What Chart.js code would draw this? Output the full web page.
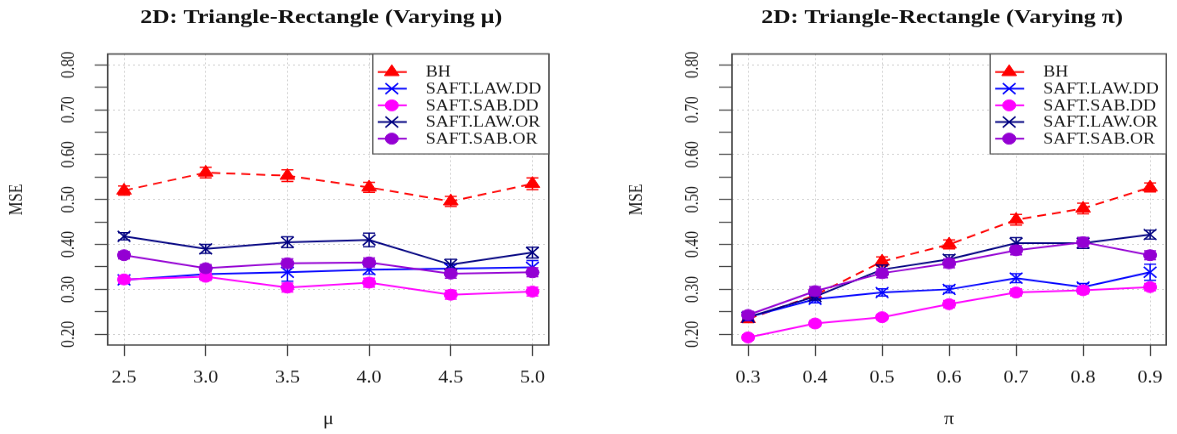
<!DOCTYPE html>
<html><head><meta charset="utf-8">
<script src="https://cdn.jsdelivr.net/npm/chart.js@4.4.1/dist/chart.umd.min.js"></script>
<style>
html,body{margin:0;padding:0;background:#fff;overflow:hidden;width:1177px;height:434px}
.panel{position:absolute;top:0;transform:scaleY(0.85);transform-origin:0 0}
</style></head><body>
<div class="panel" style="left:0"><canvas id="c1" width="588" height="511" style="width:588px;height:511px"></canvas></div>
<div class="panel" style="left:588px"><canvas id="c2" width="589" height="511" style="width:589px;height:511px"></canvas></div>
<script>
// ---------- data ----------
const seriesNames = ['BH', 'SAFT.LAW.DD', 'SAFT.SAB.DD', 'SAFT.LAW.OR', 'SAFT.SAB.OR'];
const yTickValues = [0.20, 0.25, 0.30, 0.35, 0.40, 0.45, 0.50, 0.55, 0.60, 0.65, 0.70, 0.75, 0.80];
const yTickLabels = ['0.20', '', '0.30', '', '0.40', '', '0.50', '', '0.60', '', '0.70', '', '0.80'];

// left panel: varying mu
const muValues = [2.5, 3.0, 3.5, 4.0, 4.5, 5.0];
const muTickLabels = ['2.5', '3.0', '3.5', '4.0', '4.5', '5.0'];
const muBH    = [0.520, 0.560, 0.553, 0.527, 0.496, 0.535];
const muLawDD = [0.321, 0.334, 0.338, 0.344, 0.346, 0.349];
const muSabDD = [0.322, 0.328, 0.304, 0.315, 0.288, 0.295];
const muLawOR = [0.418, 0.390, 0.405, 0.410, 0.355, 0.382];
const muSabOR = [0.376, 0.347, 0.358, 0.360, 0.335, 0.338];
const muBHErr    = [0.010, 0.012, 0.013, 0.011, 0.011, 0.013];
const muLawDDErr = [0.008, 0.008, 0.020, 0.010, 0.010, 0.015];
const muSabDDErr = [0.008, 0.008, 0.010, 0.010, 0.010, 0.010];
const muLawORErr = [0.008, 0.010, 0.012, 0.015, 0.012, 0.012];
const muSabORErr = [0.008, 0.008, 0.010, 0.010, 0.010, 0.010];

// right panel: varying pi
const piValues = [0.3, 0.4, 0.5, 0.6, 0.7, 0.8, 0.9];
const piTickLabels = ['0.3', '0.4', '0.5', '0.6', '0.7', '0.8', '0.9'];
const piBH    = [0.234, 0.287, 0.362, 0.400, 0.455, 0.480, 0.527];
const piLawDD = [0.238, 0.278, 0.293, 0.300, 0.325, 0.305, 0.338];
const piSabDD = [0.193, 0.224, 0.238, 0.267, 0.293, 0.298, 0.305];
const piLawOR = [0.238, 0.284, 0.344, 0.367, 0.403, 0.403, 0.422];
const piSabOR = [0.243, 0.296, 0.336, 0.358, 0.387, 0.405, 0.376];
const piBHErr    = [0.008, 0.008, 0.010, 0.010, 0.012, 0.012, 0.010];
const piLawDDErr = [0.008, 0.008, 0.008, 0.008, 0.010, 0.008, 0.018];
const piSabDDErr = [0.006, 0.006, 0.006, 0.008, 0.008, 0.008, 0.008];
const piLawORErr = [0.006, 0.008, 0.010, 0.010, 0.012, 0.012, 0.010];
const piSabORErr = [0.008, 0.010, 0.010, 0.010, 0.010, 0.010, 0.010];

// ---------- styles ----------
const SERIF = '"Liberation Serif", "Times New Roman", serif';
const TXT = '#1e1e1e';
const styles = [
  {color: '#ff0000', pointStyle: 'triangle', radius: 8.5, pbw: 1, dash: [9, 6], order: 5},
  {color: '#0000ff', pointStyle: 'crossRot', radius: 9, pbw: 1.6, dash: [], order: 4},
  {color: '#ff00ff', pointStyle: 'circle', radius: 6.5, pbw: 1, dash: [], order: 3},
  {color: '#000080', pointStyle: 'crossRot', radius: 9, pbw: 1.6, dash: [], order: 2},
  {color: '#9400d3', pointStyle: 'circle', radius: 6.5, pbw: 1, dash: [], order: 1}
];

function drawMarker(ctx, st, x, y) {
  ctx.save();
  ctx.fillStyle = st.color; ctx.strokeStyle = st.color; ctx.lineWidth = st.pbw; ctx.setLineDash([]);
  if (Chart.helpers && Chart.helpers.drawPoint) {
    Chart.helpers.drawPoint(ctx, {pointStyle: st.pointStyle, rotation: 0, radius: st.radius, borderWidth: st.pbw}, x, y);
  }
  ctx.restore();
}

function makeChart(id, cfg) {
  const datasets = cfg.series.map((vals, k) => ({
    label: seriesNames[k],
    data: cfg.xValues.map((x, i) => ({x: x, y: vals[i]})),
    errors: cfg.errors[k],
    borderColor: styles[k].color,
    backgroundColor: styles[k].color,
    borderWidth: 2,
    borderDash: styles[k].dash,
    pointStyle: styles[k].pointStyle,
    pointRadius: styles[k].radius,
    pointBorderWidth: styles[k].pbw,
    pointBackgroundColor: styles[k].color,
    pointBorderColor: styles[k].color,
    tension: 0,
    order: styles[k].order
  }));

  const decor = {
    id: 'decor' + id,
    afterDatasetDraw(chart, args) {
      const ds = chart.data.datasets[args.index];
      const ys = chart.scales.y, xs = chart.scales.x;
      const ctx = chart.ctx;
      ctx.save();
      ctx.strokeStyle = ds.borderColor; ctx.lineWidth = 1.5; ctx.setLineDash([]);
      ds.data.forEach((p, i) => {
        const e = ds.errors[i];
        const px = xs.getPixelForValue(p.x);
        const y1 = ys.getPixelForValue(p.y - e), y2 = ys.getPixelForValue(p.y + e);
        ctx.beginPath();
        ctx.moveTo(px, y1); ctx.lineTo(px, y2);
        ctx.moveTo(px - 6, y1); ctx.lineTo(px + 6, y1);
        ctx.moveTo(px - 6, y2); ctx.lineTo(px + 6, y2);
        ctx.stroke();
      });
      ctx.restore();
    },
    afterDraw(chart) {
      const ctx = chart.ctx, ca = chart.chartArea;
      ctx.save();
      // plot box
      ctx.strokeStyle = '#444'; ctx.lineWidth = 1.6; ctx.setLineDash([]);
      ctx.strokeRect(ca.left, ca.top, ca.right - ca.left, ca.bottom - ca.top);
      // title
      ctx.fillStyle = '#111'; ctx.font = 'bold 24px ' + SERIF;
      ctx.textAlign = 'center'; ctx.textBaseline = 'middle';
      ctx.fillText(cfg.title, (ca.left + ca.right) / 2 - 7, 21);
      // legend
      const w = 176, h = 117.6, x0 = ca.right - w, y0 = ca.top;
      ctx.fillStyle = '#fff'; ctx.fillRect(x0, y0, w, h);
      ctx.strokeStyle = '#555'; ctx.lineWidth = 1.3; ctx.strokeRect(x0, y0, w, h);
      chart.data.datasets.forEach((ds, k) => {
        const yy = y0 + 21.2 + k * 19.6;
        ctx.strokeStyle = styles[k].color; ctx.lineWidth = 2; ctx.setLineDash([]);
        ctx.beginPath(); ctx.moveTo(x0 + 5, yy); ctx.lineTo(x0 + 34, yy); ctx.stroke();
        drawMarker(ctx, styles[k], x0 + 19, yy);
        ctx.fillStyle = TXT; ctx.font = '18px ' + SERIF;
        ctx.textAlign = 'left'; ctx.textBaseline = 'middle';
        ctx.fillText(ds.label, x0 + 53, yy + 1);
      });
      ctx.restore();
    }
  };

  return new Chart(document.getElementById(id), {
    type: 'line',
    data: {datasets: datasets},
    options: {
      responsive: false, animation: false, devicePixelRatio: 1,
      layout: {padding: {top: 63.5, right: cfg.rightPad, bottom: 0, left: 0}},
      plugins: {legend: {display: false}, tooltip: {enabled: false}, title: {display: false}},
      scales: {
        x: {
          type: 'linear', min: cfg.xmin, max: cfg.xmax,
          afterBuildTicks: s => { s.ticks = cfg.xValues.map(v => ({value: v})); },
          afterFit: s => { s.height = 105.1; },
          ticks: {autoSkip: false, minRotation: 0, maxRotation: 0, padding: 14, color: TXT,
                  font: {family: SERIF, size: 20}, callback: (v, i) => cfg.xTickLabels[i]},
          grid: {color: '#cfcfcf', lineWidth: 1, tickColor: '#444', tickLength: 13, tickWidth: 1.3, tickBorderDash: []},
          border: {display: false, dash: [2, 3]},
          title: {display: true, text: cfg.xTitle, color: TXT, font: {family: SERIF, size: 20}, padding: {top: 0, bottom: 5}}
        },
        y: {
          type: 'linear', min: 0.176, max: 0.824,
          afterBuildTicks: s => { s.ticks = yTickValues.map(v => ({value: v})); },
          afterFit: s => { s.width = cfg.chartLeft; },
          ticks: {autoSkip: false, minRotation: 90, maxRotation: 90, crossAlign: 'center', padding: 10, color: TXT,
                  font: {family: SERIF, size: 18}, callback: (v, i) => yTickLabels[i]},
          grid: {color: c => (yTickLabels[c.index] ? '#cfcfcf' : 'rgba(0,0,0,0)'), lineWidth: 1,
                 tickColor: '#444', tickLength: 13, tickWidth: 1.3, tickBorderDash: []},
          border: {display: false, dash: [2, 3]},
          title: {display: true, text: 'MSE', color: TXT, font: {family: SERIF, size: 18}, padding: {top: cfg.yTitlePad, bottom: 0}}
        }
      }
    },
    plugins: [decor]
  });
}

makeChart('c1', {
  title: '2D: Triangle-Rectangle (Varying μ)', xTitle: 'μ',
  xValues: muValues, xTickLabels: muTickLabels, xmin: 2.4, xmax: 5.1,
  series: [muBH, muLawDD, muSabDD, muLawOR, muSabOR],
  errors: [muBHErr, muLawDDErr, muSabDDErr, muLawORErr, muSabORErr],
  chartLeft: 107.7, rightPad: 39.2, yTitlePad: 6.7
});
makeChart('c2', {
  title: '2D: Triangle-Rectangle (Varying π)', xTitle: 'π',
  xValues: piValues, xTickLabels: piTickLabels, xmin: 0.276, xmax: 0.924,
  series: [piBH, piLawDD, piSabDD, piLawOR, piSabOR],
  errors: [piBHErr, piLawDDErr, piSabDDErr, piLawORErr, piSabORErr],
  chartLeft: 144, rightPad: 4.4, yTitlePad: 38.7
});
</script>
</body></html>
